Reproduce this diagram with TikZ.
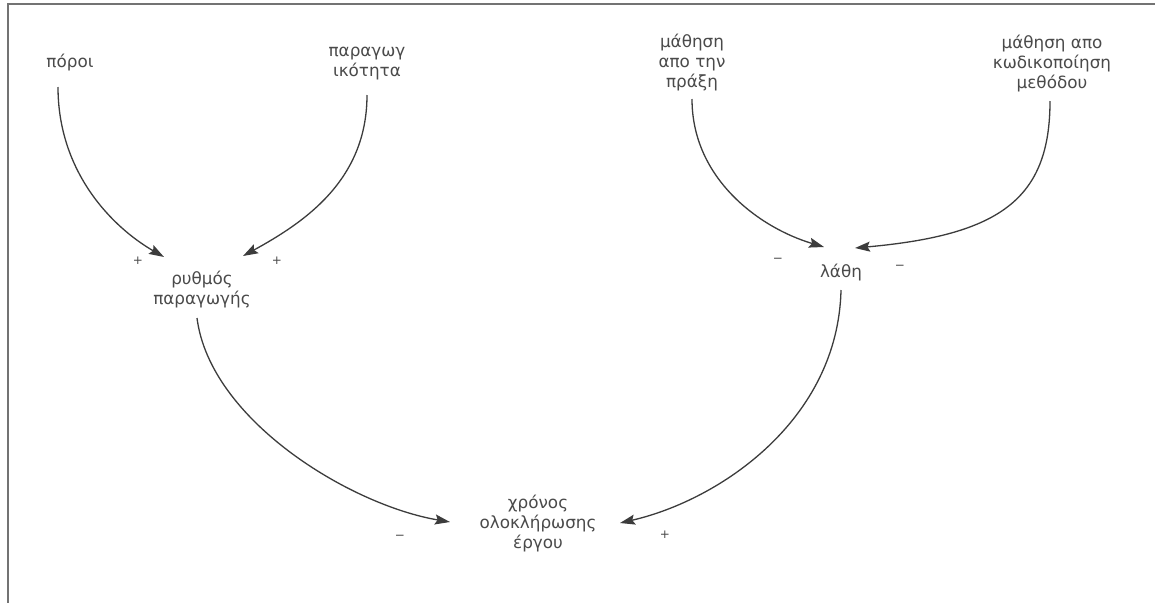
\documentclass[tikz,border=0pt]{standalone}
\usepackage{fontspec}
\setmainfont{DejaVu Sans}
\usetikzlibrary{arrows.meta}
\definecolor{ink}{HTML}{4A4A4A}
\definecolor{lineink}{HTML}{3C3C3C}
\tikzset{
  lbl/.style={align=center, text=ink, inner sep=0pt, font=\fontsize{16.8}{20}\selectfont},
  sgn/.style={text=ink, inner sep=0pt, font=\fontsize{12}{14}\selectfont},
  arr/.style={draw=lineink, line width=1.3pt, -{Stealth[length=15pt,width=10pt,inset=2.5pt]}},
  frame/.style={draw=black!55, line width=1.2pt}
}
\begin{document}
\begin{tikzpicture}[x=1pt,y=1pt]
\useasboundingbox (0,0) rectangle (1155,-603);
\fill[white] (0,0) rectangle (1155,-603);
\draw[frame] (1155,-4) -- (8,-4) -- (8,-603);

\node[lbl] (poroi) at (70,-63) {πόροι};
\node[lbl] (parag) at (367,-64) {παραγωγ\\ικότητα};
\node[lbl] (mathprax) at (692,-63) {μάθηση\\απο την\\πράξη};
\node[lbl] (mathkod) at (1052,-64) {μάθηση απο\\κωδικοποίηση\\μεθόδου};
\node[lbl] (rythmos) at (202,-290) {ρυθμός\\παραγωγής};
\node[lbl] (lathi) at (841,-273) {λάθη};
\node[lbl] (xronos) at (538,-524) {χρόνος\\ολοκλήρωσης\\έργου};

\node[sgn] (s1) at (138,-261) {+};
\node[sgn] (s2) at (277,-261) {+};
\node[sgn] (s3) at (778,-260) {−};
\node[sgn] (s4) at (900,-267) {−};
\node[sgn] (s5) at (400,-537) {−};
\node[sgn] (s6) at (665,-535) {+};

\draw[arr] ([shift={(-12,-24)}]poroi.center) .. controls +(0,-85) and +(-52,30) .. ([shift={(-38,33)}]rythmos.center);
\draw[arr] ([shift={(0,-31)}]parag.center) .. controls +(0,-85) and +(62,34) .. ([shift={(41,34)}]rythmos.center);
\draw[arr] ([shift={(0,-36)}]mathprax.center) .. controls +(0,-80) and +(-64,19) .. ([shift={(-17,26)}]lathi.center);
\draw[arr] ([shift={(-2,-37)}]mathkod.center) .. controls +(0,-98) and +(145,13) .. ([shift={(14,25)}]lathi.center);
\draw[arr] ([shift={(-5,-28)}]rythmos.center) .. controls +(13,-102) and +(-100,17) .. ([shift={(-88,2)}]xronos.center);
\draw[arr] ([shift={(0,-17)}]lathi.center) .. controls +(-3,-130) and +(100,23) .. ([shift={(82,1)}]xronos.center);
\end{tikzpicture}
\end{document}
